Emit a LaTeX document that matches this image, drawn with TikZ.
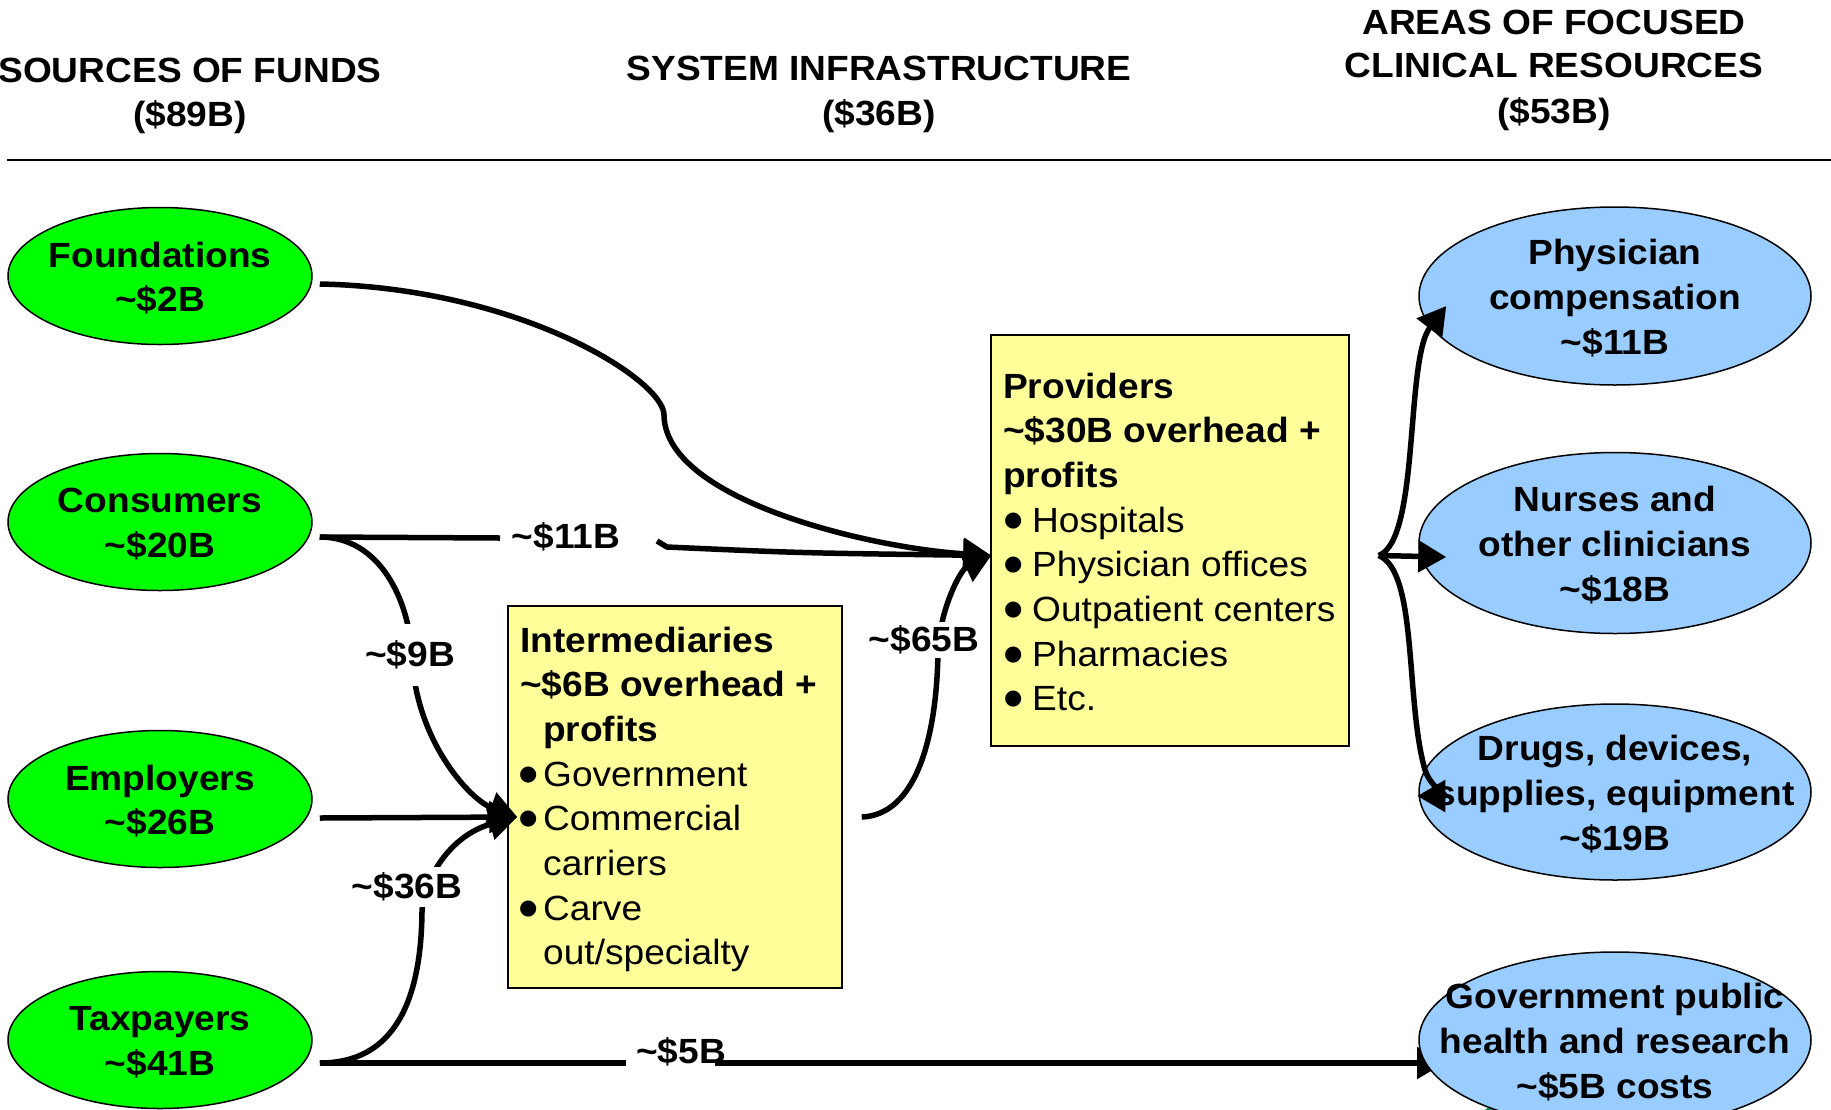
\documentclass[tikz,border=0pt]{standalone}
\usepackage{fontspec}
\setmainfont{Liberation Sans}[FakeStretch=1.06]
\newfontfamily\dgsym{DejaVu Sans}
\usetikzlibrary{arrows.meta,calc,shapes.geometric}
\newcommand\dgfont{\fontsize{35}{44.7}\selectfont}
\newcommand\dgbul[1]{\makebox[#1][l]{\raisebox{6pt}{\fontsize{21}{21}\selectfont\dgsym ●}}}
\definecolor{fgreen}{RGB}{0,255,0}
\definecolor{fblue}{RGB}{153,204,255}
\definecolor{fyellow}{RGB}{255,255,153}
\definecolor{fteal}{RGB}{20,140,110}
\begin{document}
\begin{tikzpicture}[x=1pt,y=-1pt,
  greenell/.style={ellipse, draw=black, line width=1.5pt, fill=fgreen, minimum width=304pt, minimum height=137pt, inner sep=0pt},
  blueell/.style={ellipse, draw=black, line width=1.5pt, fill=fblue, minimum width=392pt, inner sep=0pt},
  etext/.style={font=\bfseries\dgfont, align=center, inner sep=0pt, yshift=-2pt},
  ybox/.style={rectangle, draw=black, line width=1.5pt, fill=fyellow, inner sep=0pt},
  btxt/.style={anchor=base west, inner sep=0pt, font=\dgfont},
  hdr/.style={anchor=base, inner sep=0pt, font=\bfseries\dgfont},
  conn/.style={line width=5.5pt, line join=round, -{Triangle[length=28pt,width=31pt]}},
  lab/.style={font=\bfseries\dgfont, fill=white, inner xsep=4pt}
]
\useasboundingbox (0,0) rectangle (1831,1109);

% headers
\node[hdr] (h1a) at (190,82) {SOURCES OF FUNDS};
\node[hdr] (h1b) at (190,126) {(\$89B)};
\node[hdr] (h2a) at (879,80) {SYSTEM INFRASTRUCTURE};
\node[hdr] (h2b) at (879,125) {(\$36B)};
\node[hdr] (h3a) at (1554,34) {AREAS OF FOCUSED};
\node[hdr] (h3b) at (1554,77) {CLINICAL RESOURCES};
\node[hdr] (h3c) at (1554,123) {(\$53B)};
\draw[line width=2pt] (7,160) -- (1831,160);

% sources
\node[greenell] (found) at (160,276) {};
\node[etext] (foundt) at (found.center) {Foundations\\\textasciitilde\$2B};
\node[greenell] (cons) at (160,522) {};
\node[etext] (const) at (cons.center) {Consumers\\\textasciitilde\$20B};
\node[greenell] (emp) at (160,799) {};
\node[etext] (empt) at (emp.center) {Employers\\\textasciitilde\$26B};
\node[greenell] (tax) at (160,1040) {};
\node[etext] (taxt) at (tax.center) {Taxpayers\\\textasciitilde\$41B};

% boxes
\node[ybox, minimum width=334pt, minimum height=382pt] (inter) at (675,797) {};
\node[btxt] (i1) at (520,652) {\bfseries Intermediaries};
\node[btxt] (i2) at (520,696.7) {\bfseries \textasciitilde\$6B overhead +};
\node[btxt] (i3) at (543,741.4) {\bfseries profits};
\node[btxt] (i4) at (519,786.1) {\dgbul{24pt}Government};
\node[btxt] (i5) at (519,830.8) {\dgbul{24pt}Commercial};
\node[btxt] (i6) at (543,875.5) {carriers};
\node[btxt] (i7) at (519,920.2) {\dgbul{24pt}Carve};
\node[btxt] (i8) at (543,964.9) {out/specialty};

\node[ybox, minimum width=358pt, minimum height=411pt] (prov) at (1170,540.5) {};
\node[btxt] (p1) at (1003,398) {\bfseries Providers};
\node[btxt] (p2) at (1003,442.7) {\bfseries \textasciitilde\$30B overhead +};
\node[btxt] (p3) at (1003,487.4) {\bfseries profits};
\node[btxt] (p4) at (1004,532.1) {\dgbul{28pt}Hospitals};
\node[btxt] (p5) at (1004,576.8) {\dgbul{28pt}Physician offices};
\node[btxt] (p6) at (1004,621.5) {\dgbul{28pt}Outpatient centers};
\node[btxt] (p7) at (1004,666.2) {\dgbul{28pt}Pharmacies};
\node[btxt] (p8) at (1004,710.9) {\dgbul{28pt}Etc.};

% clinical resources
\node[blueell, minimum height=178pt] (phys) at (1615,296) {};
\node[etext] (physt) at (phys.center) {Physician\\compensation\\\textasciitilde\$11B};
\node[blueell, minimum height=181pt] (nurse) at (1615,543) {};
\node[etext] (nurset) at (nurse.center) {Nurses and\\other clinicians\\\textasciitilde\$18B};
\node[blueell, minimum height=176pt] (drug) at (1615,792) {};
\node[etext] (drugt) at (drug.center) {Drugs, devices,\\supplies, equipment\\\textasciitilde\$19B};

% anchor coordinates
\coordinate (fS) at ($(found.east)+(7,8)$);
\coordinate (cS) at ($(cons.east)+(7,15)$);
\coordinate (eS) at ($(emp.east)+(7,19)$);
\coordinate (tS) at ($(tax.east)+(7,23)$);
\coordinate (iIn) at ($(inter.west)+(10,20)$);
\coordinate (iOut) at ($(inter.east)+(19,20)$);
\coordinate (pIn) at ($(prov.west)+(1,15)$);
\coordinate (split) at ($(prov.east)+(29,15)$);
\coordinate (physTip) at ($(phys.west)+(28,10)$);
\coordinate (nurseTip) at ($(nurse.west)+(28,14)$);
\coordinate (drugTip) at ($(drug.west)+(-1,4)$);
\coordinate (govTip) at (1445,1063);
\coordinate (c11a) at (500,538);
\coordinate (c11b) at (657,541);
\coordinate (c5a) at (626,1063);
\coordinate (c5b) at (715,1063);

% connectors
\draw[conn] (fS) .. controls (520,288) and (664,380) .. (664,415)
  .. controls (665,500) and (870,548) .. (pIn);
\draw[conn] (cS) -- (c11a) (c11b) -- (667,547) .. controls (800,553) .. (pIn);
\draw[conn] (cS) .. controls (380,537) and (409,600) .. (412,655)
  .. controls (415,740) and (470,800) .. (iIn);
\draw[conn] (eS) -- (iIn);
\draw[conn] (tS) .. controls (395,1063) and (421,1000) .. (422,912)
  .. controls (423,880) and (450,835) .. (iIn);
\draw[conn] (tS) -- (c5a) (c5b) -- (govTip);
\draw[conn] (iOut) .. controls (915,815) and (937,740) .. (938,650)
  .. controls (940,610) and (960,570) .. (pIn);
\draw[conn] (split) .. controls (1420,540) and (1405,360) .. (physTip);
\draw[conn] (split) -- (nurseTip);
\draw[conn] (split) .. controls (1418,572) and (1405,700) .. (1425,770)
  .. controls (1432,790) and (1450,796) .. (drugTip);

% labels
\node[font=\bfseries\dgfont, inner sep=0pt] (l11) at (566,537) {\textasciitilde\$11B};
\node[lab, inner ysep=17pt] (l9) at (410,655) {\textasciitilde\$9B};
\node[lab, inner ysep=6pt] (l36) at (407,887) {\textasciitilde\$36B};
\node[lab, inner ysep=4pt] (l65) at (924,640) {\textasciitilde\$65B};
\node[font=\bfseries\dgfont, inner sep=0pt] (l5) at (681,1052) {\textasciitilde\$5B};

% bottom
\fill[fteal] (1500,1126) circle (22);
\node[blueell, minimum height=176pt] (gov) at (1615,1040) {};
\node[etext] (govt) at (gov.center) {Government public\\health and research\\\textasciitilde\$5B costs};
\end{tikzpicture}
\end{document}
